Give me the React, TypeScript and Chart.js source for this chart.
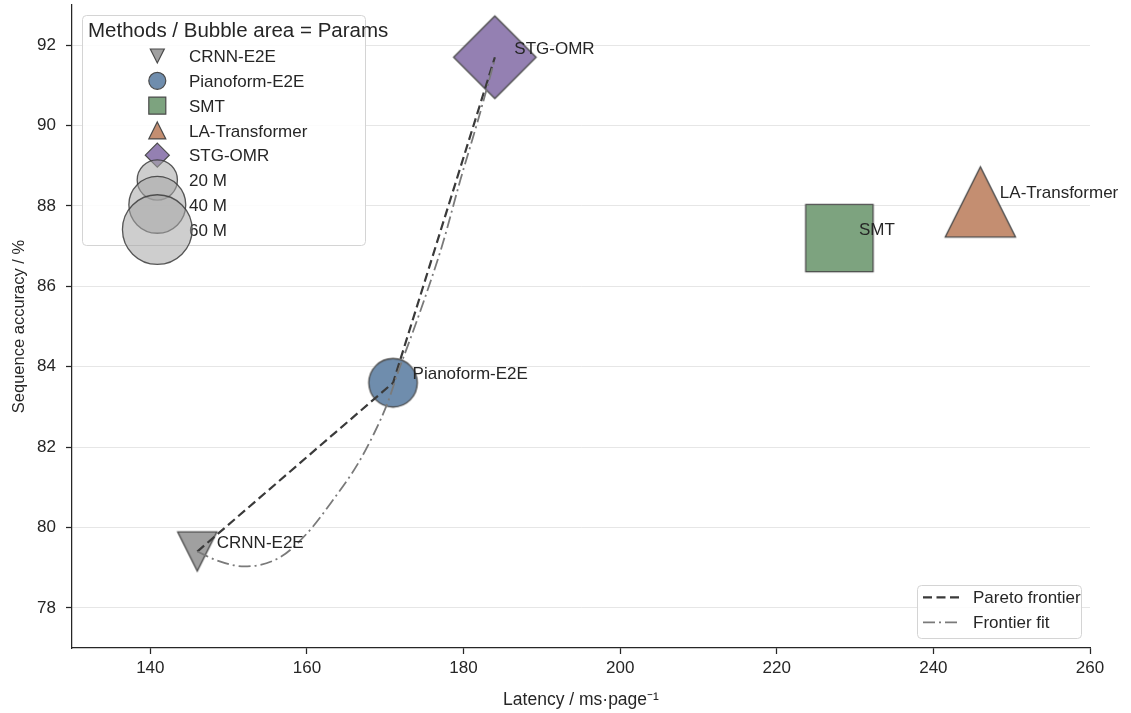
import React, { useEffect, useRef } from 'react';
import { Chart, registerables } from 'chart.js';

Chart.register(...registerables);

const FONT = '"Liberation Sans", Arial, Helvetica, sans-serif';
Chart.defaults.font.family = FONT;

// ---------- data ----------
const methods = ['CRNN-E2E', 'Pianoform-E2E', 'SMT', 'LA-Transformer', 'STG-OMR'];
const latency = [146, 171, 228, 246, 184];
const accuracy = [79.4, 83.6, 87.2, 88.1, 91.7];
const paramsM = [19, 29, 56, 61, 42];
const markerShapes = ['triDown', 'circle', 'square', 'triUp', 'diamond'];
const markerColors = ['#a0a0a0', '#6f8dad', '#7da37f', '#c48e71', '#9480b2'];

const paretoX = [146, 171, 184];
const paretoY = [79.4, 83.6, 91.7];

const fitX = [146, 148.5, 152, 156.5, 160, 163.4, 166.4, 168.6, 170.3, 171.7, 173.5, 175.4, 177.4, 179.6, 181.8, 184];
const fitY = [79.4, 79.18, 79.03, 79.25, 79.85, 80.7, 81.55, 82.35, 83.1, 83.9, 84.85, 85.9, 87.1, 88.65, 90.1, 91.65];

const sizeLegendParams = [20, 40, 60];
const sizeLegendLabels = ['20 M', '40 M', '60 M'];
const lineLegendLabels = ['Pareto frontier', 'Frontier fit'];

const xTicks = [140, 160, 180, 200, 220, 240, 260];
const yTicks = [78, 80, 82, 84, 86, 88, 90, 92];

// ---------- style ----------
const TEXT = '#262626';
const EDGE = '#4a4a4a';
const PX_PER_SQRT_M = 9.0;
const PARETO_COLOR = '#3a3a3a';
const FIT_COLOR = '#7a7a7a';
const PARETO_DASH = [9, 4.5];
const FIT_DASH = [12, 4, 2, 4];

function drawMarker(ctx: CanvasRenderingContext2D, shape: string, cx: number, cy: number, s: number, fill: string, stroke: string, lw: number) {
  const h = s / 2;
  ctx.beginPath();
  if (shape === 'circle') {
    ctx.arc(cx, cy, h, 0, Math.PI * 2);
  } else if (shape === 'square') {
    ctx.rect(cx - h, cy - h, s, s);
  } else if (shape === 'triUp') {
    ctx.moveTo(cx, cy - h);
    ctx.lineTo(cx + h, cy + h);
    ctx.lineTo(cx - h, cy + h);
    ctx.closePath();
  } else if (shape === 'triDown') {
    ctx.moveTo(cx - h, cy - h);
    ctx.lineTo(cx + h, cy - h);
    ctx.lineTo(cx, cy + h);
    ctx.closePath();
  } else if (shape === 'diamond') {
    const d = s * Math.SQRT1_2;
    ctx.moveTo(cx, cy - d);
    ctx.lineTo(cx + d, cy);
    ctx.lineTo(cx, cy + d);
    ctx.lineTo(cx - d, cy);
    ctx.closePath();
  }
  ctx.fillStyle = fill;
  ctx.fill();
  ctx.lineWidth = lw;
  ctx.strokeStyle = stroke;
  ctx.lineJoin = 'miter';
  ctx.stroke();
}

function makeMarkerCanvas(shape: string, s: number, fill: string) {
  const extent = shape === 'diamond' ? s * Math.SQRT2 : s;
  const dim = Math.ceil(extent + 6);
  const c = document.createElement('canvas');
  c.width = dim;
  c.height = dim;
  const cx = c.getContext('2d')!;
  drawMarker(cx, shape, dim / 2, dim / 2, s, fill, EDGE, 1.3);
  return c;
}

const overlayPlugin = {
  id: 'overlay',
  afterDatasetsDraw(chart: any) {
    const ctx = chart.ctx as CanvasRenderingContext2D;
    const xs = chart.scales.x;
    const ys = chart.scales.y;
    ctx.save();
    ctx.font = `17px ${FONT}`;
    ctx.fillStyle = TEXT;
    ctx.textAlign = 'left';
    ctx.textBaseline = 'alphabetic';
    methods.forEach((m, i) => {
      const px = xs.getPixelForValue(latency[i]);
      const py = ys.getPixelForValue(accuracy[i]);
      ctx.fillText(m, px + 19.5, py - 3.5);
    });
    ctx.restore();
  },
  afterDraw(chart: any) {
    const ctx = chart.ctx as CanvasRenderingContext2D;
    ctx.save();
    // ---- top-left legend ----
    ctx.beginPath();
    (ctx as any).roundRect(82.5, 15.5, 283, 230, 4);
    ctx.fillStyle = 'rgba(255,255,255,0.85)';
    ctx.fill();
    ctx.lineWidth = 1;
    ctx.strokeStyle = '#d4d4d4';
    ctx.stroke();

    ctx.fillStyle = TEXT;
    ctx.textAlign = 'left';
    ctx.textBaseline = 'alphabetic';
    ctx.font = `20.5px ${FONT}`;
    ctx.fillText('Methods / Bubble area = Params', 88, 36.6);

    const rowY0 = 56;
    const rowStep = 24.8;
    const mx = 157.3;
    const tx = 189;
    ctx.font = `17px ${FONT}`;
    const handleSizes = [14, 17, 17, 17, 17];
    methods.forEach((m, i) => {
      const y = rowY0 + i * rowStep;
      drawMarker(ctx, markerShapes[i], mx, y, handleSizes[i], markerColors[i], EDGE, 1.2);
      ctx.fillStyle = TEXT;
      ctx.fillText(m, tx, y + 6.1);
    });
    sizeLegendLabels.forEach((lab, j) => {
      const y = rowY0 + (methods.length + j) * rowStep;
      ctx.fillStyle = TEXT;
      ctx.fillText(lab, tx, y + 6.1);
    });
    sizeLegendParams.forEach((p, j) => {
      const y = rowY0 + (methods.length + j) * rowStep;
      const s = PX_PER_SQRT_M * Math.sqrt(p);
      drawMarker(ctx, 'circle', mx, y, s, 'rgba(165,165,165,0.55)', 'rgba(60,60,60,0.85)', 1.3);
    });

    // ---- bottom-right legend ----
    ctx.beginPath();
    (ctx as any).roundRect(917.5, 585.5, 164, 53, 4);
    ctx.fillStyle = 'rgba(255,255,255,0.85)';
    ctx.fill();
    ctx.lineWidth = 1;
    ctx.strokeStyle = '#d4d4d4';
    ctx.stroke();
    const lrows = [597.3, 622.3];
    const styles = [
      { color: PARETO_COLOR, dash: PARETO_DASH, w: 2.2 },
      { color: FIT_COLOR, dash: FIT_DASH, w: 1.8 },
    ];
    lineLegendLabels.forEach((lab, i) => {
      const y = lrows[i];
      ctx.beginPath();
      ctx.setLineDash(styles[i].dash);
      ctx.strokeStyle = styles[i].color;
      ctx.lineWidth = styles[i].w;
      ctx.moveTo(923, y);
      ctx.lineTo(960, y);
      ctx.stroke();
      ctx.setLineDash([]);
      ctx.fillStyle = TEXT;
      ctx.font = `17px ${FONT}`;
      ctx.fillText(lab, 973, y + 6.1);
    });
    ctx.restore();
  },
};

export default function App() {
  const ref = useRef<HTMLCanvasElement>(null);
  useEffect(() => {
    const markerDatasets = methods.map((m, i) => {
      const s = PX_PER_SQRT_M * Math.sqrt(paramsM[i]);
      return {
        label: m,
        data: [{ x: latency[i], y: accuracy[i] }],
        pointStyle: makeMarkerCanvas(markerShapes[i], s, markerColors[i]),
        pointRadius: s / 2,
        pointHoverRadius: s / 2,
        showLine: false,
        order: 2,
        clip: false as any,
      };
    });
    const chart = new Chart(ref.current!, {
      type: 'scatter',
      data: {
        datasets: [
          ...markerDatasets,
          {
            label: 'Pareto frontier',
            data: paretoX.map((x, i) => ({ x, y: paretoY[i] })),
            showLine: true,
            borderColor: PARETO_COLOR,
            borderWidth: 2.2,
            borderDash: PARETO_DASH,
            pointRadius: 0,
            order: 1,
          },
          {
            label: 'Frontier fit',
            data: fitX.map((x, i) => ({ x, y: fitY[i] })),
            showLine: true,
            borderColor: FIT_COLOR,
            borderWidth: 1.8,
            borderDash: FIT_DASH,
            cubicInterpolationMode: 'monotone',
            pointRadius: 0,
            order: 0,
          },
        ] as any,
      },
      options: {
        animation: false,
        responsive: true,
        maintainAspectRatio: false,
        devicePixelRatio: 1,
        events: [],
        layout: { autoPadding: false, padding: { top: 5, right: 41, left: 0, bottom: 0 } },
        plugins: {
          legend: { display: false },
          tooltip: { enabled: false },
        },
        scales: {
          x: {
            type: 'linear',
            min: 130,
            max: 260,
            afterBuildTicks: (s: any) => {
              s.ticks = xTicks.map((v) => ({ value: v }));
            },
            afterFit: (s: any) => {
              s.height = 65;
              s.paddingLeft = 0;
              s.paddingRight = 0;
            },
            grid: {
              drawOnChartArea: false,
              drawTicks: true,
              tickLength: 6,
              tickColor: TEXT,
              tickWidth: 1.25,
            },
            border: { display: true, color: TEXT, width: 1.25 },
            ticks: {
              font: { size: 17 },
              color: TEXT,
              padding: 4,
              maxRotation: 0,
              autoSkip: false,
            },
            title: {
              display: true,
              text: 'Latency / ms·page⁻¹',
              font: { size: 17.5 },
              color: TEXT,
              padding: { top: 0, bottom: 2 },
            },
          },
          y: {
            type: 'linear',
            min: 77,
            max: 93,
            afterBuildTicks: (s: any) => {
              s.ticks = yTicks.map((v) => ({ value: v }));
            },
            afterFit: (s: any) => {
              s.width = 72;
              s.paddingTop = 0;
              s.paddingBottom = 0;
            },
            grid: {
              color: '#e6e6e6',
              lineWidth: 1,
              drawTicks: true,
              tickLength: 6,
              tickColor: TEXT,
              tickWidth: 1.25,
            },
            border: { display: true, color: TEXT, width: 1.25 },
            ticks: {
              font: { size: 17 },
              color: TEXT,
              padding: 10,
            },
            title: {
              display: true,
              text: 'Sequence accuracy / %',
              font: { size: 16.5 },
              color: TEXT,
              padding: { top: 10, bottom: 0 },
            },
          },
        },
      } as any,
      plugins: [overlayPlugin],
    });
    return () => chart.destroy();
  }, []);
  return (
    <div style={{ position: 'fixed', left: 0, top: 0, width: 1131, height: 713, background: '#ffffff' }}>
      <canvas ref={ref} />
    </div>
  );
}
